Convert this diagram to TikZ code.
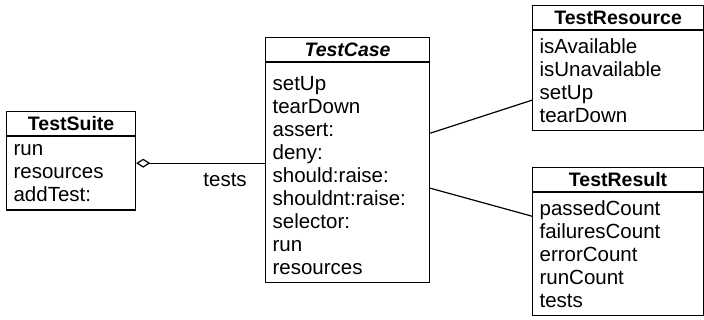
\documentclass[tikz,border=0pt]{standalone}
\usepackage{fontspec}
\setmainfont{Liberation Sans}
\usetikzlibrary{arrows.meta,positioning,calc}

\begin{document}
\begin{tikzpicture}[
    x=1pt, y=-1pt,
    head/.style={draw, line width=1.2pt, anchor=north west, minimum height=24pt, inner sep=0pt, font=\fontsize{19.5}{23}\selectfont\bfseries},
    body/.style={draw, line width=1.2pt, align=left, inner xsep=7pt, inner ysep=8pt, font=\fontsize{20.5}{23}\selectfont},
    assoc/.style={line width=1.2pt},
    lbl/.style={inner sep=0pt, font=\fontsize{20.5}{23}\selectfont}
]
\useasboundingbox (0,0) rectangle (704,320);
% classes
\node[head, minimum width=129pt] (suite) at (6,111) {TestSuite};
\node[body, text width=115pt, below=0pt of suite] (suitebody) {run\\resources\\addTest:};
\node[head, minimum width=164pt] (case) at (265,37) {\itshape TestCase};
\node[body, text width=150pt, below=0pt of case] (casebody) {\rule{0pt}{19.5pt}setUp\\tearDown\\assert:\\deny:\\should:raise:\\shouldnt:raise:\\selector:\\run\\resources};
\node[head, minimum width=171pt] (resource) at (532,5) {TestResource};
\node[body, text width=157pt, below=0pt of resource] (resourcebody) {isAvailable\\isUnavailable\\setUp\\tearDown};
\node[head, minimum width=171pt] (result) at (532,167) {TestResult};
\node[body, text width=157pt, below=0pt of result] (resultbody) {passedCount\\failuresCount\\errorCount\\runCount\\tests};
% associations
\coordinate (agg) at ([yshift=-27pt]suite.south east);
\draw[assoc, {Diamond[open, length=14pt, width=9pt]}-] (agg) -- (agg -| casebody.west)
    node[lbl, pos=0.69, below=9pt] (testslbl) {tests};
\draw[assoc] ([yshift=-71pt]case.south east) -- ([yshift=-70pt]resource.south west);
\draw[assoc] ([yshift=-126pt]case.south east) -- ([yshift=-24pt]result.south west);
\end{tikzpicture}
\end{document}
